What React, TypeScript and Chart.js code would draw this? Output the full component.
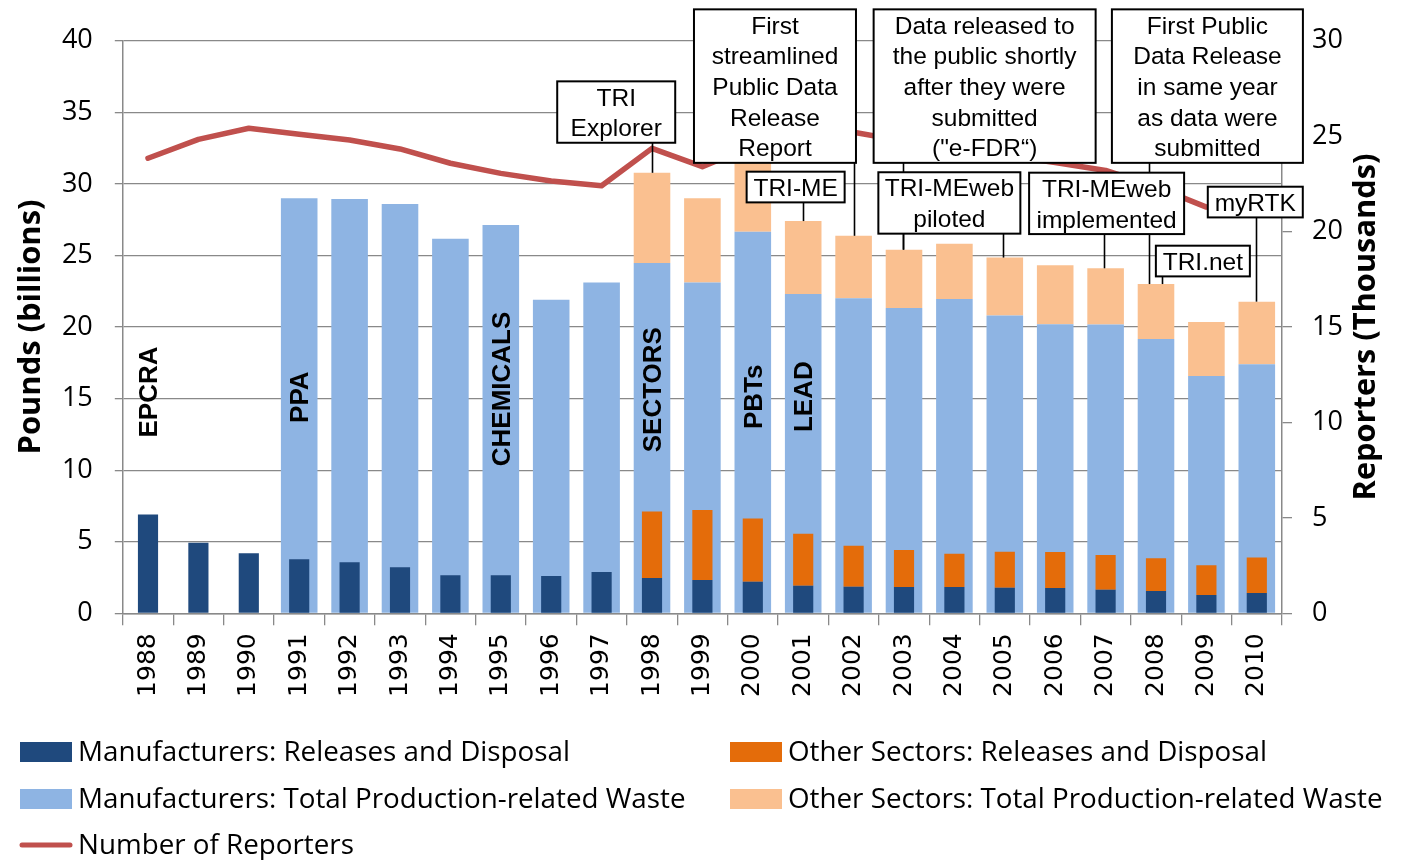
import React, { useEffect, useRef } from 'react';
import { Chart, registerables } from 'chart.js';

Chart.register(...registerables);

// ---------------- data ----------------
const years = ['1988', '1989', '1990', '1991', '1992', '1993', '1994', '1995', '1996', '1997', '1998', '1999', '2000', '2001', '2002', '2003', '2004', '2005', '2006', '2007', '2008', '2009', '2010'];

// Pounds (billions)
const mfrReleases = [6.9, 4.93, 4.19, 3.77, 3.56, 3.21, 2.65, 2.65, 2.6, 2.89, 2.46, 2.33, 2.21, 1.93, 1.86, 1.84, 1.84, 1.79, 1.77, 1.65, 1.56, 1.28, 1.42];
const otherReleases = [null, null, null, null, null, null, null, null, null, null, 4.65, 4.89, 4.42, 3.63, 2.86, 2.58, 2.32, 2.51, 2.51, 2.42, 2.28, 2.07, 2.47];
const mfrTotalWaste = [null, null, null, 29.0, 28.95, 28.6, 26.17, 27.13, 21.9, 23.1, 24.47, 23.1, 26.65, 22.3, 22.0, 21.33, 21.96, 20.8, 20.2, 20.17, 19.16, 16.58, 17.4];
const otherTotalWaste = [null, null, null, null, null, null, null, null, null, null, 6.3, 5.9, 6.0, 5.1, 4.37, 4.07, 3.86, 4.05, 4.11, 3.93, 3.84, 3.77, 4.37];
// Reporters (thousands)
const reporters = [23.84, 24.83, 25.41, 25.1, 24.8, 24.33, 23.58, 23.05, 22.65, 22.4, 24.36, 23.4, 24.5, 25.3, 25.2, 24.74, 24.38, 24.0, 23.62, 23.2, 22.34, 21.28, 21.0];

const leftTicks = [0, 5, 10, 15, 20, 25, 30, 35, 40];
const rightTicks = [0, 5, 10, 15, 20, 25, 30];

// vertical bold milestone labels (category index, left-axis value of centre)
const milestoneText = ['EPCRA', 'PPA', 'CHEMICALS', 'SECTORS', 'PBTs', 'LEAD'];
const milestoneIdx = [0, 3, 7, 10, 12, 13];
const milestoneY = [15.46, 15.1, 15.67, 15.62, 15.13, 15.13];

// callout boxes: centre in category units, top in left-axis units
const callouts = [
  { lines: ['TRI', 'Explorer'], cx: 9.29, top: 37.16, w: 118, leaders: [{ idx: 10, dx: 0 }] },
  { lines: ['First', 'streamlined', 'Public Data', 'Release', 'Report'], cx: 12.44, top: 42.19, w: 162, leaders: [{ idx: 14, dx: 0 }] },
  { lines: ['TRI-ME'], cx: 12.85, top: 30.85, w: 98, leaders: [{ idx: 13, dx: 0 }] },
  { lines: ['Data released to', 'the public shortly', 'after they were', 'submitted', '("e-FDR\u201C)'], cx: 16.6, top: 42.19, w: 222, leaders: [{ idx: 15, dx: -1 }] },
  { lines: ['TRI-MEweb', 'piloted'], cx: 15.9, top: 30.81, w: 142, leaders: [{ idx: 15, dx: -1 }, { idx: 17, dx: -2 }] },
  { lines: ['TRI-MEweb', 'implemented'], cx: 19.02, top: 30.78, w: 155, leaders: [{ idx: 19, dx: -2 }] },
  { lines: ['First Public', 'Data Release', 'in same year', 'as data were', 'submitted'], cx: 21.02, top: 42.19, w: 191, leaders: [{ idx: 20, dx: -7 }] },
  { lines: ['TRI.net'], cx: 20.93, top: 25.68, w: 94, leaders: [{ idx: 20, dx: 6 }] },
  { lines: ['myRTK'], cx: 21.97, top: 29.8, w: 95, leaders: [{ idx: 22, dx: -1 }] },
];

const C_MFR_REL = '#1F497D';
const C_OTH_REL = '#E46C0A';
const C_MFR_WASTE = '#8EB4E3';
const C_OTH_WASTE = '#FAC090';
const C_LINE = '#C0504D';
const AX = '#898989';

const legendItems = [
  { text: 'Manufacturers: Releases and Disposal', color: C_MFR_REL, col: 0, row: 0, kind: 'box' },
  { text: 'Other Sectors: Releases and Disposal', color: C_OTH_REL, col: 1, row: 0, kind: 'box' },
  { text: 'Manufacturers: Total Production-related Waste', color: C_MFR_WASTE, col: 0, row: 1, kind: 'box' },
  { text: 'Other Sectors: Total Production-related Waste', color: C_OTH_WASTE, col: 1, row: 1, kind: 'box' },
  { text: 'Number of Reporters', color: C_LINE, col: 0, row: 2, kind: 'line' },
];

function fitSize(ctx: CanvasRenderingContext2D, text: string, weight: string, family: string, target: number) {
  ctx.font = `${weight} 100px ${family}`;
  const w = ctx.measureText(text).width;
  return (100 * target) / w;
}

const overlayPlugin = {
  id: 'overlay',
  afterDatasetsDraw(chart: any) {
    const ctx: CanvasRenderingContext2D = chart.ctx;
    const xs = chart.scales.x;
    const ys = chart.scales.y;
    ctx.save();
    // milestone labels
    ctx.fillStyle = '#000';
    ctx.font = 'bold 26px "Liberation Sans", Arial, sans-serif';
    ctx.textAlign = 'center';
    ctx.textBaseline = 'middle';
    milestoneText.forEach((t, i) => {
      ctx.save();
      ctx.translate(xs.getPixelForValue(milestoneIdx[i]), ys.getPixelForValue(milestoneY[i]));
      ctx.rotate(-Math.PI / 2);
      ctx.fillText(t, 0, 2);
      ctx.restore();
    });

    const lineH = 30.7;
    // leaders
    ctx.strokeStyle = '#000';
    ctx.lineWidth = 1.6;
    callouts.forEach((c) => {
      const top = ys.getPixelForValue(c.top);
      const bottom = top + c.lines.length * lineH;
      c.leaders.forEach((l) => {
        const x = Math.round(xs.getPixelForValue(l.idx) + l.dx) + 0.5;
        const total = (mfrTotalWaste[l.idx] || 0) + (otherTotalWaste[l.idx] || 0);
        const yb = ys.getPixelForValue(total);
        ctx.beginPath();
        ctx.moveTo(x, bottom);
        ctx.lineTo(x, yb);
        ctx.stroke();
      });
    });
    // boxes
    ctx.font = '24.5px "Liberation Sans", Arial, sans-serif';
    ctx.textAlign = 'center';
    ctx.textBaseline = 'alphabetic';
    callouts.forEach((c) => {
      const top = ys.getPixelForValue(c.top);
      const h = c.lines.length * lineH;
      const cx = xs.getPixelForValue(c.cx);
      const left = cx - c.w / 2;
      ctx.fillStyle = '#fff';
      ctx.fillRect(left, top, c.w, h);
      ctx.lineWidth = 2;
      ctx.strokeStyle = '#000';
      ctx.strokeRect(left, top, c.w, h);
      ctx.fillStyle = '#000';
      c.lines.forEach((ln, i) => {
        const mid = top + lineH * (i + 0.5);
        ctx.fillText(ln, cx, mid + 24.5 * 0.36);
      });
    });
    ctx.restore();
  },
  afterDraw(chart: any) {
    const ctx: CanvasRenderingContext2D = chart.ctx;
    ctx.save();
    ctx.fillStyle = '#000';
    ctx.textAlign = 'center';
    ctx.textBaseline = 'middle';
    const fam = '"Open Sans", sans-serif';
    // axis titles
    let s = fitSize(ctx, 'Pounds (billions)', 'bold', fam, 255);
    ctx.font = `bold ${s}px ${fam}`;
    ctx.save();
    ctx.translate(31, 327);
    ctx.rotate(-Math.PI / 2);
    ctx.fillText('Pounds (billions)', 0, 0);
    ctx.restore();
    s = fitSize(ctx, 'Reporters (Thousands)', 'bold', fam, 347);
    ctx.font = `bold ${s}px ${fam}`;
    ctx.save();
    ctx.translate(1366, 327);
    ctx.rotate(-Math.PI / 2);
    ctx.fillText('Reporters (Thousands)', 0, 0);
    ctx.restore();

    // legend
    const ls = fitSize(ctx, 'Manufacturers: Total Production-related Waste', 'normal', fam, 608);
    ctx.font = `normal ${ls}px ${fam}`;
    ctx.textAlign = 'left';
    const colX = [20, 730];
    const rowY = [752, 799, 845];
    legendItems.forEach((it) => {
      const x = colX[it.col];
      const y = rowY[it.row];
      if (it.kind === 'box') {
        ctx.fillStyle = it.color;
        ctx.fillRect(x, y - 10, 52, 20);
      } else {
        ctx.strokeStyle = it.color;
        ctx.lineWidth = 5;
        ctx.lineCap = 'round';
        ctx.beginPath();
        ctx.moveTo(x + 2, y);
        ctx.lineTo(x + 50, y);
        ctx.stroke();
      }
      ctx.fillStyle = '#000';
      ctx.fillText(it.text, x + 58, y + 1);
    });
    ctx.restore();
  },
};

export default function App() {
  const ref = useRef<HTMLCanvasElement>(null);
  useEffect(() => {
    const chart = new Chart(ref.current as HTMLCanvasElement, {
      type: 'bar',
      data: {
        labels: years,
        datasets: [
          { type: 'line', label: 'Number of Reporters', data: reporters, yAxisID: 'y2', borderColor: C_LINE, backgroundColor: C_LINE, borderWidth: 5.5, pointRadius: 0, tension: 0, order: 0, borderCapStyle: 'round', borderJoinStyle: 'round' } as any,
          { label: 'Manufacturers: Releases and Disposal', data: mfrReleases, backgroundColor: C_MFR_REL, stack: 'rel', grouped: false, barPercentage: 0.4, categoryPercentage: 1, order: 1, yAxisID: 'y' } as any,
          { label: 'Other Sectors: Releases and Disposal', data: otherReleases, backgroundColor: C_OTH_REL, stack: 'rel', grouped: false, barPercentage: 0.4, categoryPercentage: 1, order: 1, yAxisID: 'y' } as any,
          { label: 'Manufacturers: Total Production-related Waste', data: mfrTotalWaste, backgroundColor: C_MFR_WASTE, stack: 'waste', grouped: false, barPercentage: 0.726, categoryPercentage: 1, order: 2, yAxisID: 'y' } as any,
          { label: 'Other Sectors: Total Production-related Waste', data: otherTotalWaste, backgroundColor: C_OTH_WASTE, stack: 'waste', grouped: false, barPercentage: 0.726, categoryPercentage: 1, order: 2, yAxisID: 'y' } as any,
        ],
      },
      options: {
        responsive: false,
        animation: false,
        devicePixelRatio: 1,
        layout: { padding: { top: 40.7, left: 0, right: 0, bottom: 0 } },
        plugins: { legend: { display: false }, tooltip: { enabled: false } },
        scales: {
          x: {
            type: 'category',
            offset: true,
            grid: { offset: true, drawOnChartArea: false, tickLength: 12, color: AX, lineWidth: 1.3 },
            border: { color: AX, width: 1.5 },
            ticks: { minRotation: 90, maxRotation: 90, autoSkip: false, padding: 8, color: '#000', font: { family: '"DejaVu Sans", sans-serif', size: 25 } },
            afterFit: (s: any) => { s.height = 246.7; },
          },
          y: {
            stacked: true,
            min: 0,
            max: 40,
            afterBuildTicks: (s: any) => { s.ticks = leftTicks.map((v) => ({ value: v })); },
            ticks: { padding: 22, color: '#000', font: { family: '"Open Sans", sans-serif', size: 27 } },
            grid: { color: AX, lineWidth: 1.3, tickLength: 8 },
            border: { color: AX, width: 1.5 },
            afterFit: (s: any) => { s.width = 122.8; },
          },
          y2: {
            position: 'right',
            min: 0,
            max: 30,
            afterBuildTicks: (s: any) => { s.ticks = rightTicks.map((v) => ({ value: v })); },
            ticks: { padding: 20, color: '#000', font: { family: '"Open Sans", sans-serif', size: 27 } },
            grid: { drawOnChartArea: false, tickLength: 10, color: AX, lineWidth: 1.3 },
            border: { color: AX, width: 1.5 },
            afterFit: (s: any) => { s.width = 119; },
          },
        },
      } as any,
      plugins: [overlayPlugin],
    });
    return () => chart.destroy();
  }, []);
  return (
    <div style={{ position: 'absolute', left: 0, top: 0, width: 1401, height: 860, background: '#fff' }}>
      <canvas ref={ref} width={1401} height={860} style={{ width: 1401, height: 860, display: 'block' }} />
    </div>
  );
}
